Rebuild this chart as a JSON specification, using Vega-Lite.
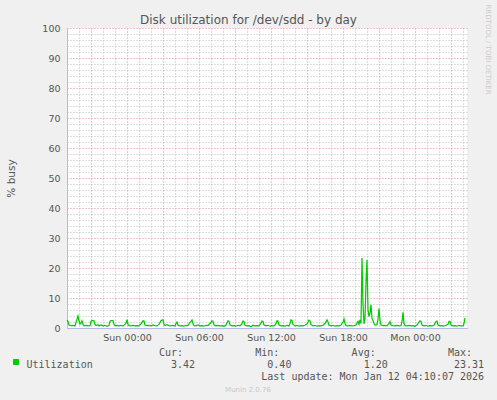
{
  "$schema": "https://vega.github.io/schema/vega-lite/v6.json",
  "width": 400,
  "height": 300,
  "autosize": {"type": "none"},
  "padding": {"left": 67, "top": 28, "right": 30, "bottom": 72},
  "background": "#f0f0f0",
  "config": {"font": "DejaVu Sans", "view": {"stroke": null, "fill": "white"}},
  "title": {"text": "Munin 2.0.76", "orient": "bottom", "anchor": "middle", "frame": "group", "dx": -19, "offset": 5, "fontSize": 7, "fontWeight": "normal", "color": "#c8c8c8", "font": "DejaVu Sans"},
  "data": {"values": [
    {"t":"2026-01-10T19:00:00Z","v":2.6},{"t":"2026-01-10T19:05:00Z","v":2.2},{"t":"2026-01-10T19:10:00Z","v":1.0},{"t":"2026-01-10T19:20:00Z","v":0.8},{"t":"2026-01-10T19:30:00Z","v":0.9},{"t":"2026-01-10T19:40:00Z","v":0.7},{"t":"2026-01-10T19:45:00Z","v":1.8},{"t":"2026-01-10T19:55:00Z","v":4.0},{"t":"2026-01-10T20:00:00Z","v":2.5},{"t":"2026-01-10T20:05:00Z","v":1.3},{"t":"2026-01-10T20:10:00Z","v":1.6},{"t":"2026-01-10T20:15:00Z","v":2.4},{"t":"2026-01-10T20:20:00Z","v":1.2},{"t":"2026-01-10T20:25:00Z","v":0.8},{"t":"2026-01-10T20:35:00Z","v":0.9},{"t":"2026-01-10T20:45:00Z","v":0.7},{"t":"2026-01-10T20:55:00Z","v":0.8},{"t":"2026-01-10T21:00:00Z","v":2.2},{"t":"2026-01-10T21:05:00Z","v":2.5},{"t":"2026-01-10T21:15:00Z","v":2.4},{"t":"2026-01-10T21:20:00Z","v":1.2},{"t":"2026-01-10T21:25:00Z","v":0.8},{"t":"2026-01-10T21:35:00Z","v":1.1},{"t":"2026-01-10T21:40:00Z","v":0.7},{"t":"2026-01-10T21:50:00Z","v":1.0},{"t":"2026-01-10T22:00:00Z","v":0.7},{"t":"2026-01-10T22:10:00Z","v":0.9},{"t":"2026-01-10T22:20:00Z","v":0.6},{"t":"2026-01-10T22:30:00Z","v":0.9},{"t":"2026-01-10T22:35:00Z","v":2.2},{"t":"2026-01-10T22:40:00Z","v":2.5},{"t":"2026-01-10T22:50:00Z","v":2.5},{"t":"2026-01-10T22:55:00Z","v":1.2},{"t":"2026-01-10T23:00:00Z","v":0.8},{"t":"2026-01-10T23:10:00Z","v":0.9},{"t":"2026-01-10T23:20:00Z","v":0.7},{"t":"2026-01-10T23:30:00Z","v":0.9},{"t":"2026-01-10T23:40:00Z","v":0.7},{"t":"2026-01-10T23:50:00Z","v":1.2},{"t":"2026-01-10T23:55:00Z","v":1.6},
    {"t":"2026-01-11T00:00:00Z","v":2.8},{"t":"2026-01-11T00:05:00Z","v":1.2},{"t":"2026-01-11T00:10:00Z","v":0.8},{"t":"2026-01-11T00:20:00Z","v":0.7},{"t":"2026-01-11T00:30:00Z","v":0.9},{"t":"2026-01-11T00:40:00Z","v":0.7},{"t":"2026-01-11T00:50:00Z","v":0.8},{"t":"2026-01-11T01:00:00Z","v":0.7},{"t":"2026-01-11T01:10:00Z","v":1.4},{"t":"2026-01-11T01:20:00Z","v":2.4},{"t":"2026-01-11T01:25:00Z","v":2.3},{"t":"2026-01-11T01:30:00Z","v":1.0},{"t":"2026-01-11T01:40:00Z","v":0.8},{"t":"2026-01-11T01:50:00Z","v":0.9},{"t":"2026-01-11T02:00:00Z","v":0.7},{"t":"2026-01-11T02:10:00Z","v":1.0},{"t":"2026-01-11T02:20:00Z","v":0.8},{"t":"2026-01-11T02:30:00Z","v":0.7},{"t":"2026-01-11T02:40:00Z","v":1.2},{"t":"2026-01-11T02:50:00Z","v":2.4},{"t":"2026-01-11T02:55:00Z","v":2.6},{"t":"2026-01-11T03:00:00Z","v":2.7},{"t":"2026-01-11T03:05:00Z","v":1.2},{"t":"2026-01-11T03:10:00Z","v":0.8},{"t":"2026-01-11T03:20:00Z","v":1.1},{"t":"2026-01-11T03:30:00Z","v":0.8},{"t":"2026-01-11T03:40:00Z","v":0.7},{"t":"2026-01-11T03:50:00Z","v":0.9},{"t":"2026-01-11T04:00:00Z","v":0.7},{"t":"2026-01-11T04:05:00Z","v":1.5},{"t":"2026-01-11T04:10:00Z","v":2.0},{"t":"2026-01-11T04:15:00Z","v":0.9},{"t":"2026-01-11T04:25:00Z","v":0.7},{"t":"2026-01-11T04:35:00Z","v":0.8},{"t":"2026-01-11T04:45:00Z","v":0.6},{"t":"2026-01-11T04:55:00Z","v":0.9},{"t":"2026-01-11T05:05:00Z","v":0.8},{"t":"2026-01-11T05:15:00Z","v":1.9},{"t":"2026-01-11T05:20:00Z","v":2.2},{"t":"2026-01-11T05:25:00Z","v":2.7},{"t":"2026-01-11T05:30:00Z","v":1.4},{"t":"2026-01-11T05:35:00Z","v":0.8},{"t":"2026-01-11T05:45:00Z","v":0.7},{"t":"2026-01-11T05:55:00Z","v":1.0},{"t":"2026-01-11T06:05:00Z","v":0.7},{"t":"2026-01-11T06:15:00Z","v":0.8},{"t":"2026-01-11T06:25:00Z","v":0.6},{"t":"2026-01-11T06:35:00Z","v":0.9},{"t":"2026-01-11T06:45:00Z","v":0.8},{"t":"2026-01-11T06:55:00Z","v":1.5},{"t":"2026-01-11T07:05:00Z","v":2.4},{"t":"2026-01-11T07:10:00Z","v":2.2},{"t":"2026-01-11T07:15:00Z","v":1.0},{"t":"2026-01-11T07:25:00Z","v":0.7},{"t":"2026-01-11T07:35:00Z","v":0.9},{"t":"2026-01-11T07:45:00Z","v":0.7},{"t":"2026-01-11T07:55:00Z","v":0.8},{"t":"2026-01-11T08:05:00Z","v":0.6},{"t":"2026-01-11T08:15:00Z","v":1.0},{"t":"2026-01-11T08:25:00Z","v":2.4},{"t":"2026-01-11T08:30:00Z","v":2.2},{"t":"2026-01-11T08:35:00Z","v":1.0},{"t":"2026-01-11T08:45:00Z","v":0.7},{"t":"2026-01-11T08:55:00Z","v":0.8},{"t":"2026-01-11T09:05:00Z","v":0.6},{"t":"2026-01-11T09:15:00Z","v":0.9},{"t":"2026-01-11T09:25:00Z","v":0.7},{"t":"2026-01-11T09:35:00Z","v":1.4},{"t":"2026-01-11T09:40:00Z","v":2.3},{"t":"2026-01-11T09:45:00Z","v":2.2},{"t":"2026-01-11T09:50:00Z","v":0.9},{"t":"2026-01-11T10:00:00Z","v":0.7},{"t":"2026-01-11T10:10:00Z","v":0.8},{"t":"2026-01-11T10:20:00Z","v":0.4},{"t":"2026-01-11T10:30:00Z","v":0.9},{"t":"2026-01-11T10:40:00Z","v":0.7},{"t":"2026-01-11T10:50:00Z","v":0.8},{"t":"2026-01-11T11:00:00Z","v":0.7},{"t":"2026-01-11T11:10:00Z","v":1.6},{"t":"2026-01-11T11:15:00Z","v":2.3},{"t":"2026-01-11T11:20:00Z","v":2.2},{"t":"2026-01-11T11:25:00Z","v":1.0},{"t":"2026-01-11T11:35:00Z","v":0.7},{"t":"2026-01-11T11:45:00Z","v":0.9},{"t":"2026-01-11T11:55:00Z","v":0.6},{"t":"2026-01-11T12:05:00Z","v":0.8},{"t":"2026-01-11T12:15:00Z","v":0.7},{"t":"2026-01-11T12:25:00Z","v":1.5},{"t":"2026-01-11T12:30:00Z","v":2.4},{"t":"2026-01-11T12:35:00Z","v":2.3},{"t":"2026-01-11T12:40:00Z","v":1.0},{"t":"2026-01-11T12:50:00Z","v":0.7},{"t":"2026-01-11T13:00:00Z","v":0.8},{"t":"2026-01-11T13:10:00Z","v":0.6},{"t":"2026-01-11T13:20:00Z","v":0.9},{"t":"2026-01-11T13:30:00Z","v":0.7},{"t":"2026-01-11T13:35:00Z","v":1.5},{"t":"2026-01-11T13:40:00Z","v":2.7},{"t":"2026-01-11T13:45:00Z","v":2.5},{"t":"2026-01-11T13:50:00Z","v":1.2},{"t":"2026-01-11T14:00:00Z","v":0.7},{"t":"2026-01-11T14:10:00Z","v":0.9},{"t":"2026-01-11T14:20:00Z","v":0.6},{"t":"2026-01-11T14:30:00Z","v":0.8},{"t":"2026-01-11T14:40:00Z","v":0.7},{"t":"2026-01-11T14:50:00Z","v":0.9},{"t":"2026-01-11T15:00:00Z","v":1.4},{"t":"2026-01-11T15:10:00Z","v":2.6},{"t":"2026-01-11T15:15:00Z","v":2.4},{"t":"2026-01-11T15:20:00Z","v":1.1},{"t":"2026-01-11T15:30:00Z","v":0.7},{"t":"2026-01-11T15:40:00Z","v":0.9},{"t":"2026-01-11T15:50:00Z","v":0.6},{"t":"2026-01-11T16:00:00Z","v":0.8},{"t":"2026-01-11T16:10:00Z","v":0.7},{"t":"2026-01-11T16:20:00Z","v":0.9},{"t":"2026-01-11T16:30:00Z","v":1.5},{"t":"2026-01-11T16:40:00Z","v":2.7},{"t":"2026-01-11T16:45:00Z","v":2.0},{"t":"2026-01-11T16:50:00Z","v":0.9},{"t":"2026-01-11T17:00:00Z","v":0.7},{"t":"2026-01-11T17:10:00Z","v":0.9},{"t":"2026-01-11T17:20:00Z","v":0.6},{"t":"2026-01-11T17:30:00Z","v":0.8},{"t":"2026-01-11T17:40:00Z","v":0.7},{"t":"2026-01-11T17:50:00Z","v":1.0},{"t":"2026-01-11T18:00:00Z","v":2.0},{"t":"2026-01-11T18:05:00Z","v":3.0},{"t":"2026-01-11T18:10:00Z","v":1.5},{"t":"2026-01-11T18:15:00Z","v":0.8},{"t":"2026-01-11T18:25:00Z","v":0.7},{"t":"2026-01-11T18:35:00Z","v":0.9},{"t":"2026-01-11T18:45:00Z","v":0.7},{"t":"2026-01-11T18:55:00Z","v":0.8},{"t":"2026-01-11T19:05:00Z","v":1.0},{"t":"2026-01-11T19:15:00Z","v":2.2},{"t":"2026-01-11T19:20:00Z","v":1.2},{"t":"2026-01-11T19:25:00Z","v":2.7},{"t":"2026-01-11T19:30:00Z","v":1.5},{"t":"2026-01-11T19:35:00Z","v":23.31},{"t":"2026-01-11T19:40:00Z","v":8.0},{"t":"2026-01-11T19:45:00Z","v":1.4},{"t":"2026-01-11T19:50:00Z","v":3.0},{"t":"2026-01-11T19:55:00Z","v":15.0},{"t":"2026-01-11T20:00:00Z","v":22.7},{"t":"2026-01-11T20:05:00Z","v":6.0},{"t":"2026-01-11T20:10:00Z","v":3.8},{"t":"2026-01-11T20:15:00Z","v":5.0},{"t":"2026-01-11T20:20:00Z","v":7.7},{"t":"2026-01-11T20:25:00Z","v":3.2},{"t":"2026-01-11T20:30:00Z","v":2.4},{"t":"2026-01-11T20:35:00Z","v":1.5},{"t":"2026-01-11T20:40:00Z","v":1.0},{"t":"2026-01-11T20:50:00Z","v":1.1},{"t":"2026-01-11T20:55:00Z","v":3.0},{"t":"2026-01-11T21:00:00Z","v":6.5},{"t":"2026-01-11T21:05:00Z","v":2.5},{"t":"2026-01-11T21:10:00Z","v":1.0},{"t":"2026-01-11T21:20:00Z","v":0.8},{"t":"2026-01-11T21:30:00Z","v":0.9},{"t":"2026-01-11T21:40:00Z","v":0.7},{"t":"2026-01-11T21:50:00Z","v":1.5},{"t":"2026-01-11T21:55:00Z","v":2.1},{"t":"2026-01-11T22:00:00Z","v":1.0},{"t":"2026-01-11T22:10:00Z","v":0.8},{"t":"2026-01-11T22:20:00Z","v":0.7},{"t":"2026-01-11T22:30:00Z","v":0.9},{"t":"2026-01-11T22:40:00Z","v":0.7},{"t":"2026-01-11T22:50:00Z","v":0.8},{"t":"2026-01-11T22:55:00Z","v":2.0},{"t":"2026-01-11T23:00:00Z","v":5.2},{"t":"2026-01-11T23:05:00Z","v":1.5},{"t":"2026-01-11T23:10:00Z","v":0.8},{"t":"2026-01-11T23:20:00Z","v":0.7},{"t":"2026-01-11T23:30:00Z","v":0.9},{"t":"2026-01-11T23:40:00Z","v":0.7},{"t":"2026-01-11T23:50:00Z","v":0.8},
    {"t":"2026-01-12T00:00:00Z","v":0.6},{"t":"2026-01-12T00:10:00Z","v":1.0},{"t":"2026-01-12T00:20:00Z","v":2.0},{"t":"2026-01-12T00:25:00Z","v":2.4},{"t":"2026-01-12T00:30:00Z","v":2.2},{"t":"2026-01-12T00:35:00Z","v":1.0},{"t":"2026-01-12T00:45:00Z","v":0.7},{"t":"2026-01-12T00:55:00Z","v":0.9},{"t":"2026-01-12T01:05:00Z","v":0.6},{"t":"2026-01-12T01:15:00Z","v":0.8},{"t":"2026-01-12T01:25:00Z","v":0.7},{"t":"2026-01-12T01:35:00Z","v":0.9},{"t":"2026-01-12T01:45:00Z","v":2.2},{"t":"2026-01-12T01:50:00Z","v":2.3},{"t":"2026-01-12T01:55:00Z","v":1.0},{"t":"2026-01-12T02:05:00Z","v":0.7},{"t":"2026-01-12T02:15:00Z","v":0.8},{"t":"2026-01-12T02:25:00Z","v":0.6},{"t":"2026-01-12T02:35:00Z","v":0.9},{"t":"2026-01-12T02:45:00Z","v":1.2},{"t":"2026-01-12T02:50:00Z","v":2.2},{"t":"2026-01-12T02:55:00Z","v":2.2},{"t":"2026-01-12T03:00:00Z","v":1.0},{"t":"2026-01-12T03:10:00Z","v":0.7},{"t":"2026-01-12T03:20:00Z","v":0.8},{"t":"2026-01-12T03:30:00Z","v":0.6},{"t":"2026-01-12T03:40:00Z","v":0.9},{"t":"2026-01-12T03:50:00Z","v":0.7},{"t":"2026-01-12T04:00:00Z","v":0.7},{"t":"2026-01-12T04:05:00Z","v":1.5},{"t":"2026-01-12T04:10:00Z","v":3.42}
  ]},
  "layer": [
    {
      "mark": {"type": "line", "strokeWidth": 1.25},
      "encoding": {
        "x": {"field": "t", "type": "temporal",
          "scale": {"type": "utc", "domain": [1768071600000, 1768191600000]},
          "axis": {
            "orient": "bottom",
            "values": [1768071600000,1768075200000,1768078800000,1768082400000,1768086000000,1768089600000,1768093200000,1768096800000,1768100400000,1768104000000,1768107600000,1768111200000,1768114800000,1768118400000,1768122000000,1768125600000,1768129200000,1768132800000,1768136400000,1768140000000,1768143600000,1768147200000,1768150800000,1768154400000,1768158000000,1768161600000,1768165200000,1768168800000,1768172400000,1768176000000,1768179600000,1768183200000,1768186800000,1768190400000],
            "grid": true,
            "gridColor": {"condition": {"test": "utchours(datum.value) % 3 === 0", "value": "#e29090"}, "value": "#bdbdbd"},
            "gridDash": [1, 2],
            "ticks": false,
            "domainColor": "#b8b8ec",
            "labelExpr": "utchours(datum.value) % 6 === 0 ? utcFormat(datum.value, '%a %H:%M') : ''",
            "labelOverlap": false,
            "labelFont": "DejaVu Sans", "labelFontSize": 9.5, "labelColor": "#555555", "labelPadding": 4,
            "title": [
              "\u200b\u00a0\u00a0\u00a0\u00a0\u00a0\u00a0\u00a0\u00a0\u00a0\u00a0\u00a0\u00a0\u00a0\u00a0\u00a0\u00a0\u00a0\u00a0\u00a0\u00a0\u00a0\u00a0Cur:\u00a0\u00a0\u00a0\u00a0\u00a0\u00a0\u00a0\u00a0\u00a0\u00a0\u00a0\u00a0Min:\u00a0\u00a0\u00a0\u00a0\u00a0\u00a0\u00a0\u00a0\u00a0\u00a0\u00a0\u00a0Avg:\u00a0\u00a0\u00a0\u00a0\u00a0\u00a0\u00a0\u00a0\u00a0\u00a0\u00a0\u00a0Max:",
              "Utilization\u00a0\u00a0\u00a0\u00a0\u00a0\u00a0\u00a0\u00a0\u00a0\u00a0\u00a0\u00a0\u00a03.42\u00a0\u00a0\u00a0\u00a0\u00a0\u00a0\u00a0\u00a0\u00a0\u00a0\u00a0\u00a00.40\u00a0\u00a0\u00a0\u00a0\u00a0\u00a0\u00a0\u00a0\u00a0\u00a0\u00a0\u00a01.20\u00a0\u00a0\u00a0\u00a0\u00a0\u00a0\u00a0\u00a0\u00a0\u00a0\u00a023.31",
              "\u200b\u00a0\u00a0\u00a0\u00a0\u00a0\u00a0\u00a0\u00a0\u00a0\u00a0\u00a0\u00a0\u00a0\u00a0\u00a0\u00a0\u00a0\u00a0\u00a0\u00a0\u00a0\u00a0\u00a0\u00a0\u00a0\u00a0\u00a0\u00a0\u00a0\u00a0\u00a0\u00a0\u00a0\u00a0\u00a0\u00a0\u00a0\u00a0\u00a0Last update: Mon Jan 12 04:10:07 2026"
            ],
            "titleFont": "DejaVu Sans Mono", "titleFontSize": 10, "titleFontWeight": "normal", "titleColor": "#555555",
            "titleAlign": "left", "titleBaseline": "top", "titleX": -41, "titleY": 19, "titleLineHeight": 12
          }
        },
        "y": {"field": "v", "type": "quantitative",
          "scale": {"domain": [0, 100], "nice": false},
          "axis": {
            "values": [0,2,4,6,8,10,12,14,16,18,20,22,24,26,28,30,32,34,36,38,40,42,44,46,48,50,52,54,56,58,60,62,64,66,68,70,72,74,76,78,80,82,84,86,88,90,92,94,96,98,100],
            "grid": true,
            "gridColor": {"condition": {"test": "datum.value % 10 === 0", "value": "#e29090"}, "value": "#bdbdbd"},
            "gridDash": [1, 2],
            "ticks": false,
            "domainColor": "#b8b8ec",
            "labelExpr": "datum.value % 10 === 0 ? datum.label : ''",
            "labelOverlap": false,
            "labelFont": "DejaVu Sans", "labelFontSize": 9.5, "labelColor": "#555555", "labelPadding": 7,
            "title": "% busy", "titleFont": "DejaVu Sans", "titleFontSize": 10.5, "titleFontWeight": "normal", "titleColor": "#555555",
            "titleAngle": 270, "titleX": -56, "titleY": 150, "titleAlign": "center", "titleBaseline": "middle"
          }
        },
        "color": {"datum": "Utilization", "type": "nominal",
          "scale": {"range": ["#00cc00"]},
          "legend": {"orient": "none", "legendX": -54, "legendY": 331, "title": null, "padding": 0,
            "symbolType": "square", "symbolSize": 25, "symbolFillColor": "#00cc00", "symbolStrokeWidth": 1,
            "labelExpr": "''", "labelFontSize": 1, "labelOffset": 0}
        }
      }
    },
    {
      "mark": {"type": "line", "opacity": 0},
      "encoding": {
        "x": {"field": "t", "type": "temporal",
          "axis": {"orient": "top", "labels": false, "ticks": false, "domain": false, "grid": false,
            "title": "Disk utilization for /dev/sdd - by day", "titleFont": "DejaVu Sans", "titleFontSize": 12, "titleFontWeight": "normal", "titleColor": "#555555",
            "titleX": 181, "titleY": -5, "titleAlign": "center", "titleBaseline": "alphabetic"}
        },
        "y": {"field": "v", "type": "quantitative",
          "axis": {"orient": "right", "labels": false, "ticks": false, "domain": false, "grid": false,
            "title": "RRDTOOL / TOBI OETIKER", "titleFont": "DejaVu Sans", "titleFontSize": 7, "titleFontWeight": "normal", "titleColor": "#cccccc",
            "titleAngle": 90, "titleX": 20, "titleY": -24, "titleAlign": "left", "titleBaseline": "middle"}
        }
      }
    }
  ],
  "resolve": {"axis": {"x": "independent", "y": "independent"}}
}
